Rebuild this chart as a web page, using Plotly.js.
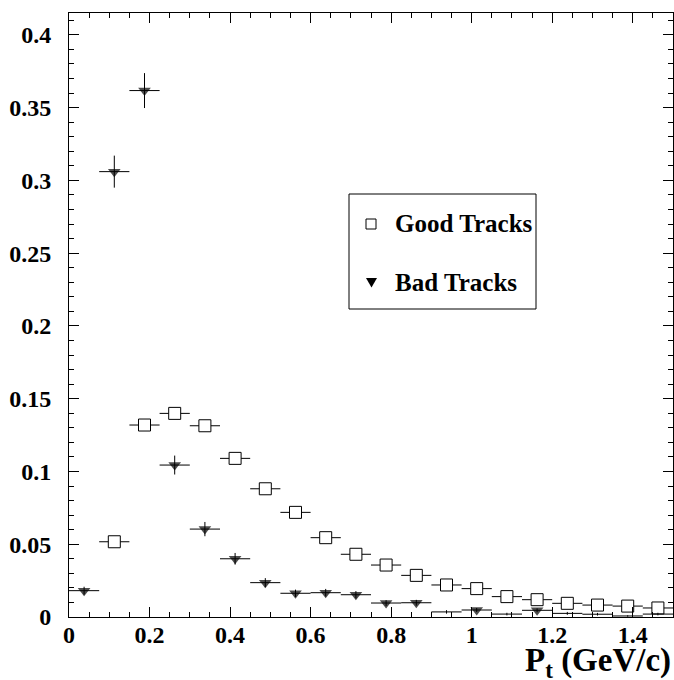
<!DOCTYPE html>
<html>
<head>
<meta charset="utf-8">
<script src="https://cdn.plot.ly/plotly-3.0.1.min.js"></script>
<style>
  html, body { margin: 0; padding: 0; background: #fff; }
  #plot { width: 674px; height: 680px; }
</style>
</head>
<body>
<div id="plot"></div>
<script>
// Transverse-momentum spectra, 20 bins of 0.075 GeV/c between 0 and 1.5
const binCenters = [0.0375, 0.1125, 0.1875, 0.2625, 0.3375, 0.4125, 0.4875, 0.5625, 0.6375, 0.7125,
                    0.7875, 0.8625, 0.9375, 1.0125, 1.0875, 1.1625, 1.2375, 1.3125, 1.3875, 1.4625];
const binHalfWidth = 0.0375;

const goodTracks = [null, 0.0517, 0.1319, 0.1399, 0.1314, 0.1090, 0.0881, 0.0719, 0.0545, 0.0431,
                    0.0357, 0.0286, 0.0220, 0.0195, 0.0140, 0.0119, 0.0094, 0.0082, 0.0075, 0.0062];
const goodErrors = [0, 0.0016, 0.0026, 0.0027, 0.0026, 0.0024, 0.0021, 0.0019, 0.0017, 0.0015,
                    0.0014, 0.0012, 0.0011, 0.0010, 0.0009, 0.0008, 0.0007, 0.0007, 0.0006, 0.0006];

const badTracks = [0.0181, 0.3060, 0.3617, 0.1044, 0.0604, 0.0400, 0.0236, 0.0163, 0.0167, 0.0153,
                   0.0096, 0.0098, 0.0035, 0.0048, 0.0020, 0.0046, 0.0025, 0.0019, 0.0007, 0.0020];
const badErrors = [0.0027, 0.0110, 0.0120, 0.0065, 0.0049, 0.0040, 0.0031, 0.0025, 0.0026, 0.0025,
                   0.0020, 0.0020, 0.0012, 0.0014, 0.0009, 0.0013, 0.0010, 0.0009, 0.0005, 0.0009];

const xTickVals = [0, 0.2, 0.4, 0.6, 0.8, 1, 1.2, 1.4];
const xTickText = ['0', '0.2', '0.4', '0.6', '0.8', '1', '1.2', '1.4'];
const yTickVals = [0, 0.05, 0.1, 0.15, 0.2, 0.25, 0.3, 0.35, 0.4];
const yTickText = ['0', '0.05', '0.1', '0.15', '0.2', '0.25', '0.3', '0.35', '0.4'];

const legendLabels = ['Good Tracks', 'Bad Tracks'];
const xTitle = 'P<sub>t</sub> (GeV/c)';

// Very low bins keep only their error bars (marker suppressed near the floor)
const markerFloor = 0.004;
const badSizes = badTracks.map(v => v < markerFloor ? 0 : 11);

const serif = '"Liberation Serif", "Times New Roman", serif';

const traces = [
  {
    x: binCenters, y: goodTracks, type: 'scatter', mode: 'markers', name: legendLabels[0],
    marker: { symbol: 'square', size: 12, color: '#ffffff', line: { color: '#000000', width: 1 } },
    error_x: { type: 'constant', value: binHalfWidth, width: 0, thickness: 1, color: '#000000' },
    error_y: { type: 'data', array: goodErrors, width: 0, thickness: 1, color: '#000000' },
    showlegend: false, cliponaxis: true
  },
  {
    x: binCenters, y: badTracks, type: 'scatter', mode: 'markers', name: legendLabels[1],
    marker: { symbol: 'triangle-down', size: badSizes, color: '#000000', line: { width: 0 } },
    error_x: { type: 'constant', value: binHalfWidth, width: 0, thickness: 1, color: '#000000' },
    error_y: { type: 'data', array: badErrors, width: 0, thickness: 1, color: '#000000' },
    showlegend: false, cliponaxis: true
  }
];

const axisCommon = {
  showgrid: false, zeroline: false,
  showline: true, linecolor: '#000000', linewidth: 1, mirror: 'allticks',
  ticks: 'inside', ticklen: 10, tickwidth: 1, tickcolor: '#000000',
  tickfont: { family: serif, size: 24, color: '#000000', weight: 'bold' },
  fixedrange: true
};

// Legend box drawn in paper units
const px = v => (v - 69) / 604;
const py = v => (617 - v) / 604;

const shapes = [
  { type: 'rect', xref: 'paper', yref: 'paper', x0: px(349), x1: px(536), y0: py(309), y1: py(194),
    line: { color: '#000000', width: 1 }, fillcolor: '#ffffff', layer: 'above' },
  { type: 'rect', xref: 'paper', yref: 'paper', x0: px(366), x1: px(376), y0: py(229), y1: py(219),
    line: { color: '#000000', width: 1 }, fillcolor: '#ffffff', layer: 'above' },
  { type: 'path', xref: 'paper', yref: 'paper',
    path: `M ${px(366)},${py(278)} L ${px(377)},${py(278)} L ${px(371.5)},${py(287.5)} Z`,
    line: { color: '#000000', width: 0 }, fillcolor: '#000000', layer: 'above' }
];

const annotations = [
  { xref: 'paper', yref: 'paper', x: px(393), y: py(224), xanchor: 'left', yanchor: 'middle',
    text: legendLabels[0], showarrow: false,
    font: { family: serif, size: 25, color: '#000000', weight: 'bold' } },
  { xref: 'paper', yref: 'paper', x: px(393), y: py(283), xanchor: 'left', yanchor: 'middle',
    text: legendLabels[1], showarrow: false,
    font: { family: serif, size: 25, color: '#000000', weight: 'bold' } },
  { xref: 'paper', yref: 'paper', x: 1.0, y: py(640), xanchor: 'right', yanchor: 'top',
    text: xTitle, showarrow: false,
    font: { family: serif, size: 33, color: '#000000', weight: 'bold' } }
];

const layout = {
  width: 674, height: 680,
  margin: { l: 69, r: 1, t: 13, b: 63, pad: 0 },
  paper_bgcolor: '#ffffff', plot_bgcolor: '#ffffff',
  showlegend: false,
  xaxis: Object.assign({}, axisCommon, {
    range: [0, 1.5], tickmode: 'array', tickvals: xTickVals, ticktext: xTickText,
    ticklabelstandoff: -4,
    minor: { dtick: 0.05, ticks: 'inside', ticklen: 5, tickwidth: 1, tickcolor: '#000000' }
  }),
  yaxis: Object.assign({}, axisCommon, {
    range: [0, 0.415], tickmode: 'array', tickvals: yTickVals, ticktext: yTickText,
    ticklabelstandoff: 12,
    minor: { dtick: 0.01, ticks: 'inside', ticklen: 5, tickwidth: 1, tickcolor: '#000000' }
  }),
  shapes: shapes,
  annotations: annotations
};

Plotly.newPlot('plot', traces, layout, { displayModeBar: false, staticPlot: true });
</script>
</body>
</html>
